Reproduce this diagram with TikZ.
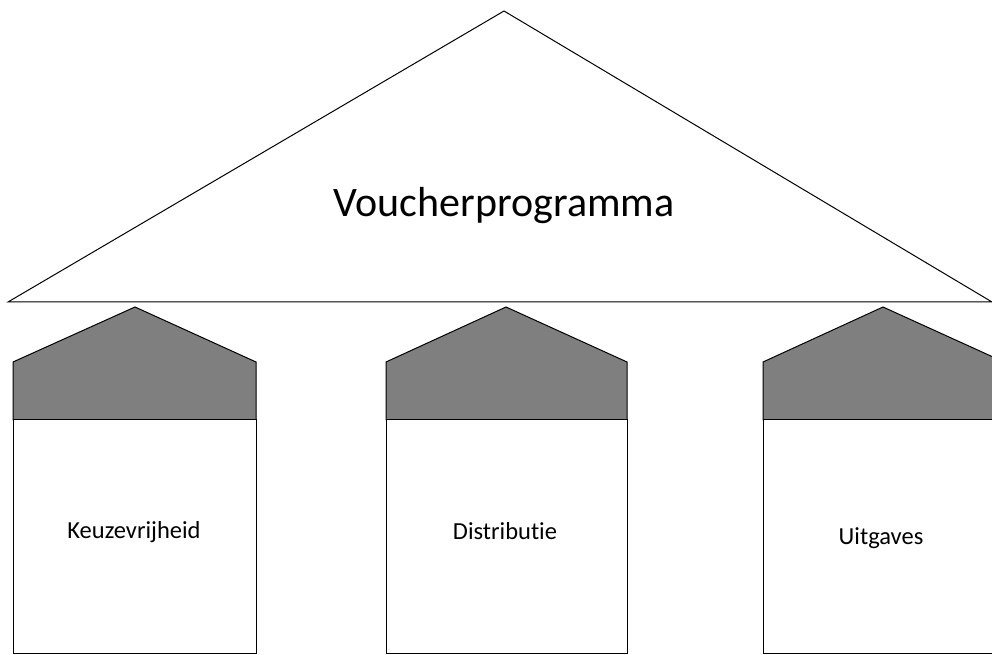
\documentclass[tikz,border=0pt]{standalone}
\usepackage{fontspec}
\setmainfont{Carlito}[Ligatures=NoCommon]
\usepackage{tikz}
\usetikzlibrary{calc}
\definecolor{roofgray}{RGB}{127,127,127}

\begin{document}
\begin{tikzpicture}[
    x=1pt, y=1pt,
    outline/.style={draw=black, line width=1pt, line join=miter},
    pillar roof/.style={outline, fill=roofgray},
    pillar body/.style={outline, fill=white},
    title text/.style={font=\fontsize{42}{46}\selectfont, anchor=base},
    pillar text/.style={font=\fontsize{24.5}{28}\selectfont, anchor=base}
    ]
   \clip (0,0) rectangle (992,655);
   % big roof
   \coordinate (t1) at (8,353);
   \coordinate (t2) at (504,644);
   \coordinate (t3) at (992,353);
   \draw[outline] (t1) -- (t2) -- (t3) -- cycle;
   \node[title text] (title) at (504,438) {Voucherprogramma};
   % left pillar
   \coordinate (a1) at (13,235);
   \coordinate (a2) at (13,293);
   \coordinate (a3) at (135,348);
   \coordinate (a4) at (256,293);
   \coordinate (a5) at (256,235);
   \draw[pillar roof] (a1) -- (a2) -- (a3) -- (a4) -- (a5) -- cycle;
   \draw[pillar body] (a1) rectangle (256,1);
   \node[pillar text] (keuze) at (134,116) {Keuzevrijheid};
   % middle pillar
   \coordinate (b1) at (386,235);
   \coordinate (b2) at (386,293);
   \coordinate (b3) at (506,348);
   \coordinate (b4) at (627,293);
   \coordinate (b5) at (627,235);
   \draw[pillar roof] (b1) -- (b2) -- (b3) -- (b4) -- (b5) -- cycle;
   \draw[pillar body] (b1) rectangle (627,1);
   \node[pillar text] (distributie) at (505,115) {Distributie};
   % right pillar
   \coordinate (c1) at (763,235);
   \coordinate (c2) at (763,293);
   \coordinate (c3) at (883,348);
   \coordinate (c4) at (1004,293);
   \coordinate (c5) at (1004,235);
   \draw[pillar roof] (c1) -- (c2) -- (c3) -- (c4) -- (c5) -- cycle;
   \draw[pillar body] (c1) rectangle (1004,1);
   \node[pillar text] (uitgaves) at (881,110) {Uitgaves};
\end{tikzpicture}
\end{document}
